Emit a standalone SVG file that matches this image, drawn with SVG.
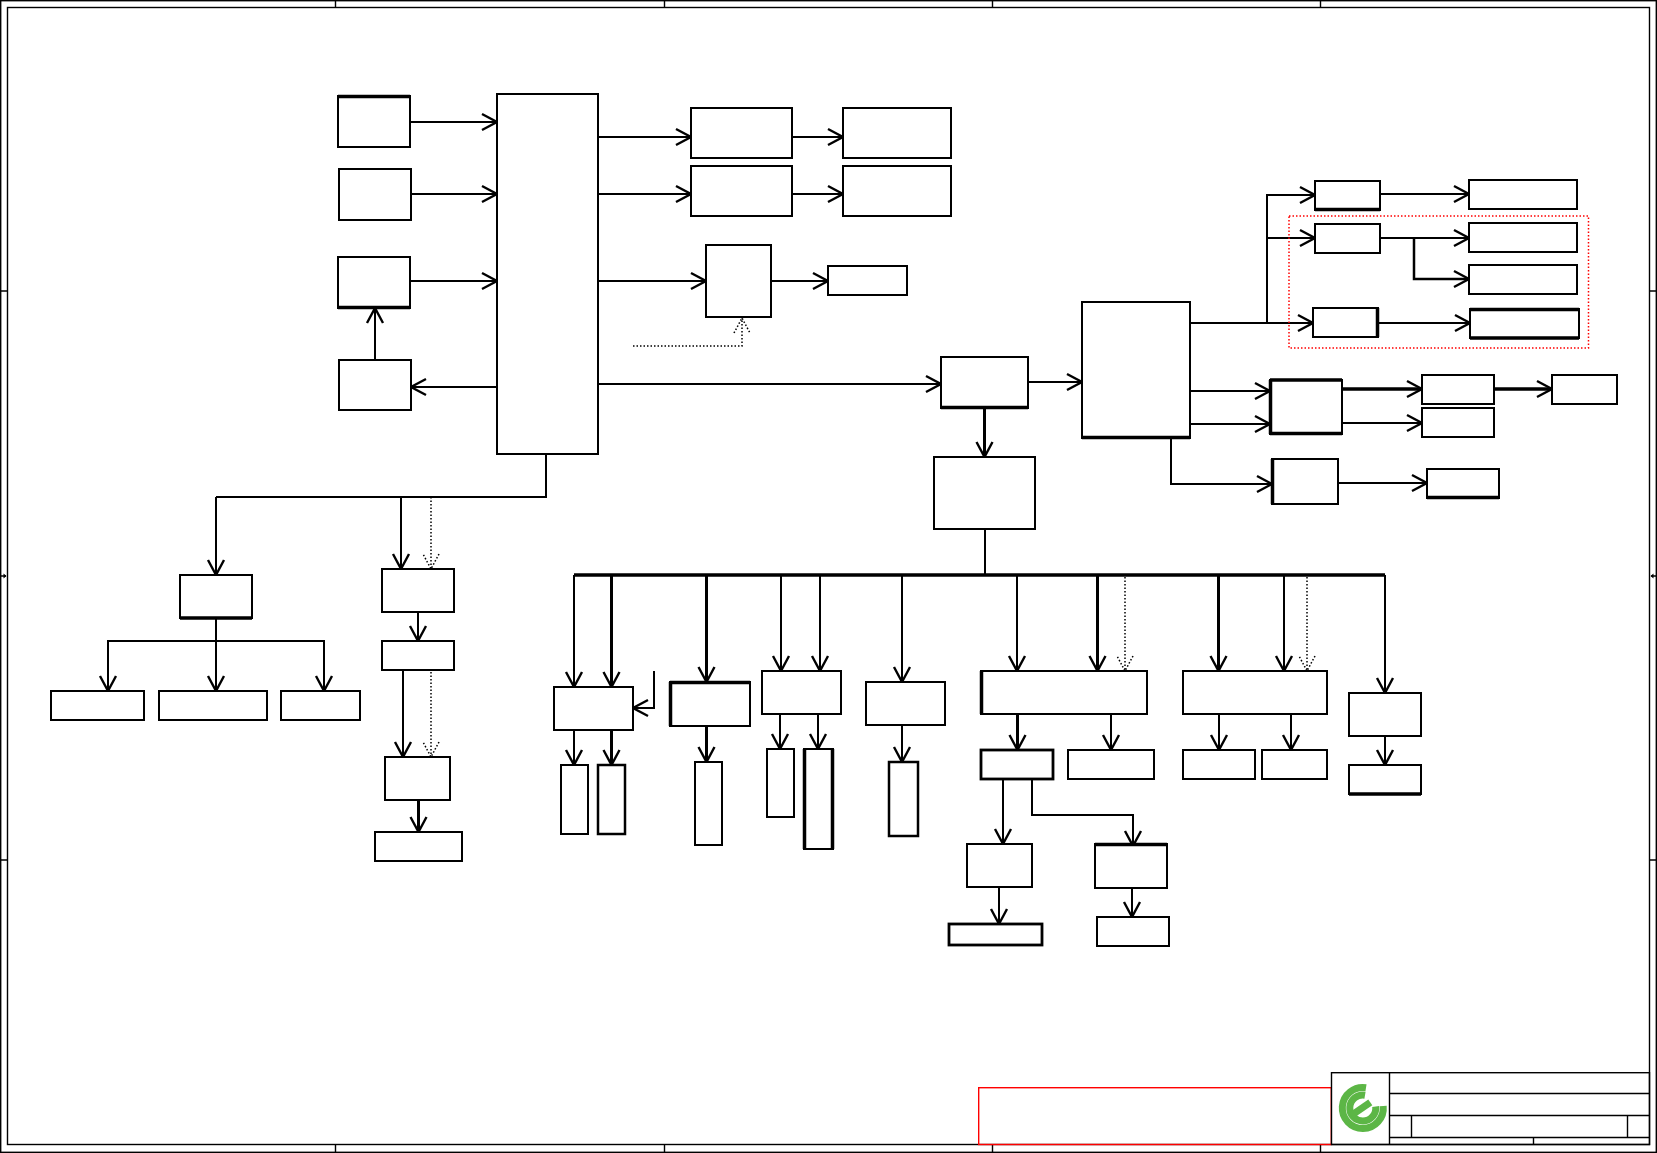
<svg xmlns="http://www.w3.org/2000/svg" width="1657" height="1153" viewBox="0 0 1657 1153">
<defs>
<style>
.frame{fill:none;stroke:#000;stroke-width:1.4}
.n{fill:#fff;stroke:#000;stroke-width:2}
.hv{stroke:#000;stroke-width:3.5;fill:none}
.c{fill:none;stroke:#000;stroke-width:2;marker-end:url(#a)}
.p{fill:none;stroke:#000;stroke-width:2}
.t{stroke-width:3}
.d{fill:none;stroke:#000;stroke-width:1.5;stroke-dasharray:1.5 2;marker-end:url(#h)}
</style>
<marker id="a" markerUnits="userSpaceOnUse" markerWidth="22" markerHeight="22" refX="18" refY="11" orient="auto" overflow="visible"><path d="M3,3 L18,11 L3,19" fill="none" stroke="#000" stroke-width="2.400"/></marker>
<marker id="h" markerUnits="userSpaceOnUse" markerWidth="22" markerHeight="22" refX="18" refY="11" orient="auto" overflow="visible"><path d="M3,3 L18,11 L3,19" fill="none" stroke="#000" stroke-width="1.500" stroke-dasharray="1.500 2"/></marker>
</defs>
<rect width="1657" height="1153" fill="#fff"/>
<g id="frame">
<rect class="frame" x="0.7" y="0.7" width="1655.6" height="1151.6"/>
<rect class="frame" x="7.5" y="7.5" width="1642" height="1137"/>
<path class="frame" d="M335.500 1V7.500M664.500 1V7.500M992.500 1V7.500M1320.500 1V7.500M335.500 1144.500V1152M664.500 1144.500V1152M992.500 1144.500V1152M1320.500 1144.500V1152M1 291H7.500M1 860H7.500M1650 291H1656M1650 860H1656M1 576H6M1651 576H1656"/>
<path d="M3.500 573.500L6.500 576L3.500 578.500ZM1653.500 573.500L1650.500 576L1653.500 578.500Z" fill="#000"/>
</g>
<g id="stamp">
<rect x="978.7" y="1087.7" width="352.6" height="56.8" fill="none" stroke="#f00" stroke-width="1.400"/>
</g>
<g id="title-block">
<rect class="frame" x="1331.5" y="1072.7" width="318" height="71.8"/>
<path class="frame" d="M1389.500 1072.700V1144.500M1389.500 1093.500H1649.500M1389.500 1115.500H1649.500M1389.500 1137.500H1649.500M1411.500 1115.500V1137.500M1627.500 1115.500V1137.500M1533.500 1137.500V1144.500"/>
<g id="logo" fill="none" stroke="#5cb646">
<path d="M1366 1087.800A20.500 20.500 0 1 0 1383.200 1106" stroke-width="7"/>
<path d="M1365 1095.200A13 13 0 1 0 1375.700 1106.500" stroke-width="7"/>
<path d="M1351 1115.700L1370.300 1102.300" stroke-width="7"/>
</g>
</g>
<g id="connectors">
<path class="c" d="M410 122H497"/>
<path class="c" d="M411 194H497"/>
<path class="c" d="M410 281H497"/>
<path class="c" d="M497 387H411"/>
<path class="c" d="M375 361V308"/>
<path class="c" d="M598 137H691"/>
<path class="c" d="M792 137H843"/>
<path class="c" d="M598 194H691"/>
<path class="c" d="M792 194H843"/>
<path class="c" d="M598 281H706"/>
<path class="c" d="M771 281H828"/>
<path class="c" d="M598 384H941"/>
<path class="d" d="M633 346H742V318"/>
<path class="c t" d="M984.500 408V457"/>
<path class="c" d="M1028 382H1082"/>
<path class="c" d="M1190 323H1313"/>
<path class="c" d="M1267 323V195H1315"/>
<path class="c" d="M1267 238H1315"/>
<path class="c" d="M1380 194H1469"/>
<path class="c" d="M1380 238H1469"/>
<path class="c" style="stroke-width:2.500" d="M1414 238V279H1469"/>
<path class="c" d="M1378 323H1470"/>
<path class="c" d="M1190 391H1270"/>
<path class="c" d="M1190 424H1270"/>
<path class="c" style="stroke-width:3.500" d="M1342 389H1422"/>
<path class="c" style="stroke-width:3.500" d="M1494 389H1552"/>
<path class="c" d="M1342 423H1422"/>
<path class="c" d="M1171 438V484H1272"/>
<path class="c" d="M1338 483H1427"/>
<path class="p" d="M546 454V497H216"/>
<path class="c" d="M216 497V575"/>
<path class="c" d="M401 497V569"/>
<path class="d" d="M431 497V569"/>
<path class="c" d="M418 612V641"/>
<path class="c" d="M403 670V757"/>
<path class="d" d="M431 672V757"/>
<path class="c t" d="M418.500 800V832"/>
<path class="c" d="M216 618V691"/>
<path class="p" d="M108 691V641H324V691"/>
<path class="c" d="M108 641V691"/>
<path class="c" d="M324 641V691"/>
<path class="p" d="M985 529V575"/>
<path class="p" style="stroke-width:3.500" d="M574 575H1385"/>
<path class="c" d="M574 575V687"/>
<path class="c t" d="M611.500 575V687"/>
<path class="c" d="M654 671V708H633"/>
<path class="c" d="M574 730V765"/>
<path class="c t" d="M611.500 730V765"/>
<path class="c t" d="M706.500 575V682"/>
<path class="c t" d="M706.500 726V762"/>
<path class="c" d="M781 575V671"/>
<path class="c" d="M820 575V671"/>
<path class="c" d="M780 714V749"/>
<path class="c" d="M818 714V749"/>
<path class="c" d="M902 575V682"/>
<path class="c" d="M902 725V762"/>
<path class="c" d="M1017 575V671"/>
<path class="c t" d="M1097.500 575V671"/>
<path class="d" d="M1125 577V671"/>
<path class="c t" d="M1017.500 714V750"/>
<path class="c" d="M1111 714V750"/>
<path class="c" d="M1003 779V844"/>
<path class="c" d="M1032 779V815H1133V846"/>
<path class="c" d="M999 887V924"/>
<path class="c" d="M1132 888V917"/>
<path class="c t" d="M1218.500 575V671"/>
<path class="c" d="M1284 575V671"/>
<path class="d" d="M1307 577V671"/>
<path class="c" d="M1219 714V750"/>
<path class="c" d="M1291 714V750"/>
<path class="c" d="M1385 575V693"/>
<path class="c" d="M1385 736V765"/>
</g>
<g id="red-group"><rect x="1289" y="216" width="299.5" height="132" fill="none" stroke="#f00" stroke-width="1.500" stroke-dasharray="1.500 2"/></g>
<g id="nodes">
<g id="n1"><rect class="n" x="338" y="96" width="72" height="51"/><path class="hv" d="M338 96.500H410"/></g>
<g id="n2"><rect class="n" x="339" y="169" width="72" height="51"/></g>
<g id="n3"><rect class="n" x="338" y="257" width="72" height="51"/><path class="hv" d="M338 307.500H410"/></g>
<g id="n4"><rect class="n" x="339" y="360" width="72" height="50"/></g>
<g id="n5"><rect class="n" x="497" y="94" width="101" height="360"/></g>
<g id="n6"><rect class="n" x="691" y="108" width="101" height="50"/></g>
<g id="n7"><rect class="n" x="843" y="108" width="108" height="50"/></g>
<g id="n8"><rect class="n" x="691" y="166" width="101" height="50"/></g>
<g id="n9"><rect class="n" x="843" y="166" width="108" height="50"/></g>
<g id="n10"><rect class="n" x="706" y="245" width="65" height="72"/></g>
<g id="n11"><rect class="n" x="828" y="266" width="79" height="29"/></g>
<g id="n12"><rect class="n" x="941" y="357" width="87" height="51"/><path class="hv" d="M941 407.500H1028"/></g>
<g id="n13"><rect class="n" x="934" y="457" width="101" height="72"/></g>
<g id="n14"><rect class="n" x="1082" y="302" width="108" height="136"/><path class="hv" d="M1082 437.500H1190"/></g>
<g id="n15"><rect class="n" x="1315" y="181" width="65" height="29"/><path class="hv" d="M1315 209.500H1380"/></g>
<g id="n16"><rect class="n" x="1315" y="224" width="65" height="29"/></g>
<g id="n17"><rect class="n" x="1313" y="308" width="65" height="29"/><path class="hv" d="M1377.500 308V337"/></g>
<g id="n18"><rect class="n" x="1469" y="180" width="108" height="29"/></g>
<g id="n19"><rect class="n" x="1469" y="223" width="108" height="29"/></g>
<g id="n20"><rect class="n" x="1469" y="265" width="108" height="29"/></g>
<g id="n21"><rect class="n" x="1470" y="309" width="109" height="29"/><path class="hv" d="M1470 309.500H1579M1470 338H1579"/></g>
<g id="n22"><rect class="n" x="1270" y="380" width="72" height="54"/><path class="hv" d="M1270 380H1342M1270 433.500H1342M1270.500 380V434"/></g>
<g id="n23"><rect class="n" x="1422" y="375" width="72" height="29"/></g>
<g id="n24"><rect class="n" x="1422" y="408" width="72" height="29"/></g>
<g id="n25"><rect class="n" x="1552" y="375" width="65" height="29"/></g>
<g id="n26"><rect class="n" x="1272" y="459" width="66" height="45"/><path class="hv" d="M1272.500 459V504"/></g>
<g id="n27"><rect class="n" x="1427" y="469" width="72" height="29"/><path class="hv" d="M1427 497.500H1499"/></g>
<g id="n28"><rect class="n" x="180" y="575" width="72" height="43"/><path class="hv" d="M180 618H252"/></g>
<g id="n29"><rect class="n" x="382" y="569" width="72" height="43"/></g>
<g id="n30"><rect class="n" x="382" y="641" width="72" height="29"/></g>
<g id="n31"><rect class="n" x="385" y="757" width="65" height="43"/></g>
<g id="n32"><rect class="n" x="375" y="832" width="87" height="29"/></g>
<g id="n33"><rect class="n" x="51" y="691" width="93" height="29"/></g>
<g id="n34"><rect class="n" x="159" y="691" width="108" height="29"/></g>
<g id="n35"><rect class="n" x="281" y="691" width="79" height="29"/></g>
<g id="n36"><rect class="n" x="554" y="687" width="79" height="43"/></g>
<g id="n37"><rect class="n" x="561" y="765" width="27" height="69"/></g>
<g id="n38"><rect class="n" style="stroke-width:2.500" x="598" y="765" width="27" height="69"/></g>
<g id="n39"><rect class="n" x="670" y="682" width="80" height="44"/><path class="hv" d="M670 682.500H750M670.500 682V726"/></g>
<g id="n40"><rect class="n" x="695" y="762" width="27" height="83"/></g>
<g id="n41"><rect class="n" x="762" y="671" width="79" height="43"/></g>
<g id="n42"><rect class="n" x="767" y="749" width="27" height="68"/></g>
<g id="n43"><rect class="n" x="804" y="749" width="29" height="100"/><path class="hv" d="M804.500 749V849M832.500 749V849"/></g>
<g id="n44"><rect class="n" x="866" y="682" width="79" height="43"/></g>
<g id="n45"><rect class="n" style="stroke-width:2.500" x="889" y="762" width="29" height="74"/></g>
<g id="n46"><rect class="n" x="981" y="671" width="166" height="43"/><path class="hv" d="M981.500 671V714"/></g>
<g id="n47"><rect class="n" style="stroke-width:2.800" x="981" y="750" width="72" height="29"/></g>
<g id="n48"><rect class="n" x="1068" y="750" width="86" height="29"/></g>
<g id="n49"><rect class="n" x="967" y="844" width="65" height="43"/></g>
<g id="n50"><rect class="n" x="1095" y="844" width="72" height="44"/><path class="hv" d="M1095 844.500H1167"/></g>
<g id="n51"><rect class="n" style="stroke-width:2.800" x="949" y="924" width="93" height="21"/></g>
<g id="n52"><rect class="n" x="1097" y="917" width="72" height="29"/></g>
<g id="n53"><rect class="n" x="1183" y="671" width="144" height="43"/></g>
<g id="n54"><rect class="n" x="1183" y="750" width="72" height="29"/></g>
<g id="n55"><rect class="n" x="1262" y="750" width="65" height="29"/></g>
<g id="n56"><rect class="n" x="1349" y="693" width="72" height="43"/></g>
<g id="n57"><rect class="n" x="1349" y="765" width="72" height="29"/><path class="hv" d="M1349 794H1421"/></g>
</g>
</svg>
